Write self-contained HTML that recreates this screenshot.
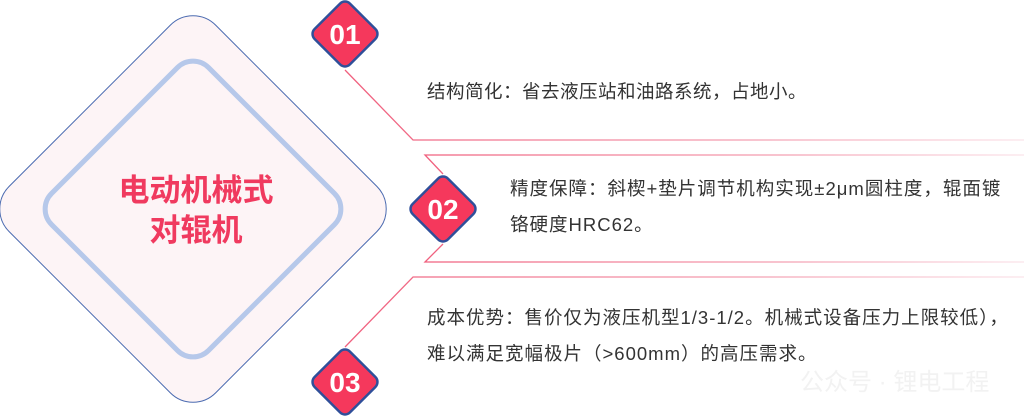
<!DOCTYPE html>
<html><head><meta charset="utf-8"><style>
html,body{margin:0;padding:0;background:#fff;}
body{width:1024px;height:419px;position:relative;overflow:hidden;font-family:"Liberation Sans","Noto Sans CJK SC",sans-serif;}
.t{position:absolute;font-size:18.5px;color:#333;line-height:36px;white-space:nowrap;}
</style></head><body>
<svg width="1024" height="419" style="position:absolute;left:0;top:0">
<defs>
<linearGradient id="g" x1="0" x2="1" y1="0" y2="0" gradientUnits="objectBoundingBox">
<stop offset="0" stop-color="#f0607e"/><stop offset="0.6" stop-color="#f4a0b2"/><stop offset="1" stop-color="#fbe4ea"/>
</linearGradient>
</defs>
<g fill="none" stroke="#f0607e" stroke-width="1.3">
<line x1="378" y1="34" x2="1024" y2="34" stroke="url(#g)"/>
<polyline points="345,70 413,140 1024,140" stroke="url(#g)"/>
<polyline points="443,174 425,155 1024,155" stroke="url(#g)"/>
<polyline points="443,244 425,262 1024,262" stroke="url(#g)"/>
<polyline points="345,347 413,277 1024,277" stroke="url(#g)"/>
<line x1="378" y1="384" x2="1024" y2="384" stroke="url(#g)"/>
</g>
<rect x="47" y="63" width="292" height="292" rx="32" transform="rotate(45 193 209)" fill="#fdf4f6" stroke="#4a6ab0" stroke-width="1"/>
<rect x="82" y="98" width="222" height="222" rx="22" transform="rotate(45 193 209)" fill="none" stroke="#b6c8ea" stroke-width="5"/>
<text x="196" y="201" text-anchor="middle" font-size="31" font-weight="bold" fill="#f03a5f" font-family="Liberation Sans,Noto Sans CJK SC,sans-serif">电动机械式</text>
<text x="196" y="241" text-anchor="middle" font-size="31" font-weight="bold" fill="#f03a5f" font-family="Liberation Sans,Noto Sans CJK SC,sans-serif">对辊机</text>
<g fill="#f5385c" stroke="#2f4f9a" stroke-width="2.5">
<rect x="320" y="9" width="50" height="50" rx="7" transform="rotate(45 345 34)"/>
<rect x="418" y="184" width="50" height="50" rx="7" transform="rotate(45 443 209)"/>
<rect x="320" y="357" width="50" height="50" rx="7" transform="rotate(45 345 382)"/>
</g>
<g fill="#fff" font-size="28" font-weight="bold" text-anchor="middle" font-family="Liberation Sans,sans-serif">
<text x="345" y="44">01</text><text x="443" y="219">02</text><text x="345" y="392">03</text>
</g>
<text x="800" y="390" font-size="24" fill="#f2f2f2" font-family="Liberation Sans,Noto Sans CJK SC,sans-serif">公众号 · 锂电工程</text>
</svg>
<div class="t" style="left:427px;top:74px;letter-spacing:0.5px">结构简化：省去液压站和油路系统，占地小。</div>
<div class="t" style="left:510px;top:171px;letter-spacing:1px">精度保障：斜楔+垫片调节机构实现±2μm圆柱度，辊面镀<br>铬硬度HRC62。</div>
<div class="t" style="left:427px;top:300px;letter-spacing:1px">成本优势：售价仅为液压机型1/3-1/2。机械式设备压力上限较低），<br>难以满足宽幅极片（&gt;600mm）的高压需求。</div>
</body></html>
